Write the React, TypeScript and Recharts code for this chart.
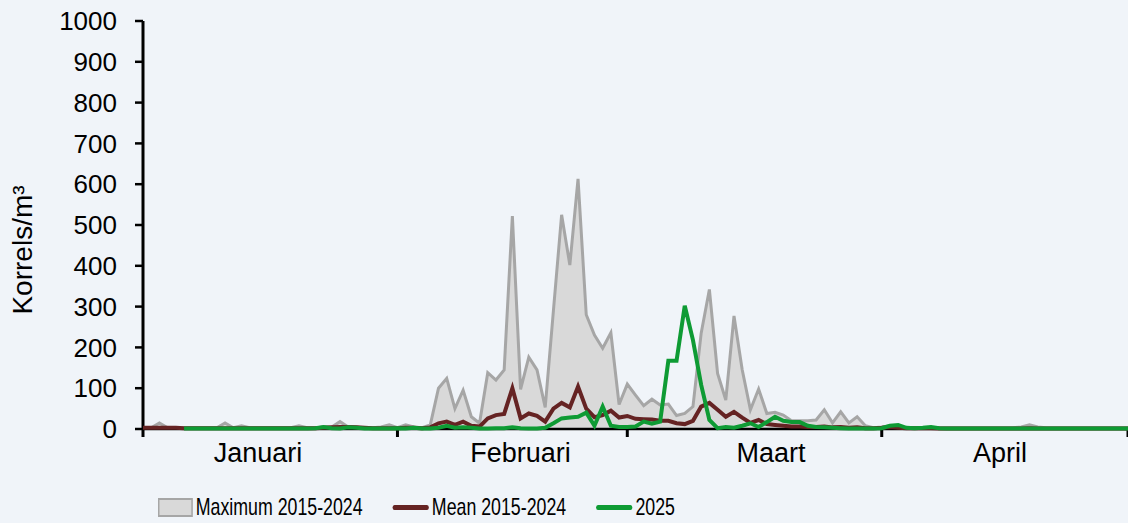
import React from "react";
import {
  ComposedChart,
  Area,
  Line,
  XAxis,
  YAxis,
  Legend,
} from "recharts";

// day index 0 = 1 januari ... 120 = 1 mei
const maxVals = [
  3, 3, 15, 3, 3, 3, 3, 3, 3, 3,
  15, 3, 8, 3, 3, 3, 3, 3, 3, 8,
  3, 3, 5, 5, 18, 5, 5, 3, 3, 5,
  10, 3, 10, 5, 3, 10, 100, 124, 50, 95,
  30, 14, 138, 120, 145, 522, 97, 176, 145, 53,
  290, 525, 402, 613, 280, 230, 198, 236, 60, 110,
  83, 57, 73, 59, 61, 33, 38, 55, 235, 342,
  136, 71, 277, 145, 47, 98, 38, 41, 34, 20,
  20, 20, 22, 47, 15, 42, 15, 30, 8, 3,
  5, 8, 3, 3, 3, 3, 3, 3, 3, 3,
  3, 3, 3, 3, 3, 3, 3, 5, 10, 5,
  3, 3, 3, 3, 3, 3, 3, 3, 3, 3, 3,
];

const meanVals = [
  3, 3, 3, 3, 3, 2, 2, 2, 2, 2,
  2, 2, 2, 2, 2, 2, 2, 2, 2, 2,
  2, 2, 3, 4, 5, 5, 4, 3, 2, 2,
  2, 2, 3, 3, 2, 4, 14, 18, 10, 18,
  8, 6, 26, 34, 37, 100, 26, 38, 32, 18,
  50, 64, 53, 104, 50, 29, 34, 45, 28, 32,
  25, 24, 23, 20, 20, 14, 12, 20, 55, 64,
  47, 30, 42, 28, 15, 22, 12, 10, 8, 6,
  6, 5, 5, 6, 4, 5, 3, 4, 2, 2,
  3, 5, 3, 2, 2, 2, 2, 1, 1, 1,
  1, 1, 1, 1, 1, 1, 1, 1, 2, 1,
  1, 1, 1, 1, 1, 1, 1, 1, 1, 1, 1,
];

const vals2025 = [
  null, null, null, null, null, 1, 1, 1, 1, 1,
  1, 1, 1, 1, 1, 1, 1, 1, 1, 1,
  1, 2, 5, 2, 1, 4, 3, 1, 1, 1,
  1, 2, 1, 3, 1, 1, 3, 8, 3, 4,
  3, 1, 1, 2, 2, 4, 2, 1, 1, 3,
  14, 26, 28, 30, 40, 8, 55, 8, 5, 5,
  6, 18, 13, 18, 167, 167, 302, 218, 108, 22,
  2, 5, 3, 8, 14, 5, 17, 30, 20, 17,
  17, 8, 5, 4, 3, 2, 1, 1, 1, 1,
  2, 8, 10, 3, 2, 3, 5, 2, 1, 1,
  1, 1, 1, 1, 1, 1, 1, 1, 1, 1,
  1, 1, 1, 1, 1, 1, 1, 1, 1, 1, 1,
];

const monthStarts = [0, 31, 59, 90, 120];
const monthLabels = ["Januari", "Februari", "Maart", "April"];
const labelPos = [14, 46, 76.5, 104.4];
const yTicks = [0, 100, 200, 300, 400, 500, 600, 700, 800, 900, 1000];

const data = maxVals.map((m, i) => ({
  day: i,
  max: m,
  mean: meanVals[i],
  y2025: vals2025[i],
}));

const BG = "#f0f4f9";
const AXIS_FONT = "'Liberation Sans', Arial, sans-serif";
const SQUEEZE = 0.74; // legend font is a narrow face in the original

function LegendBox() {
  const gap = 30 / SQUEEZE;
  const item = { display: "flex", alignItems: "center", marginRight: gap };
  const text = { fontSize: 24, color: "#000", marginLeft: 3 / SQUEEZE, whiteSpace: "nowrap" as const };
  return (
    <div style={{ paddingLeft: 158, paddingTop: 18 }}>
      <div
        style={{
          display: "flex",
          alignItems: "center",
          fontFamily: AXIS_FONT,
          transform: `scaleX(${SQUEEZE})`,
          transformOrigin: "0 50%",
          width: 1300,
        }}
      >
        <div style={item}>
          <div style={{ width: 43, height: 15, background: "#d9d9d9", border: "2px solid #a6a6a6" }} />
          <span style={text}>Maximum 2015-2024</span>
        </div>
        <div style={item}>
          <div style={{ width: 49, height: 5, borderRadius: 3, background: "#652323" }} />
          <span style={text}>Mean 2015-2024</span>
        </div>
        <div style={item}>
          <div style={{ width: 49, height: 5, borderRadius: 3, background: "#0e9b34" }} />
          <span style={text}>2025</span>
        </div>
      </div>
    </div>
  );
}

function YLabel(props: any) {
  const { viewBox } = props;
  const cx = viewBox.x + 22;
  const cy = viewBox.y + viewBox.height / 2 + 25;
  return (
    <text
      x={cx}
      y={cy}
      transform={`rotate(-90, ${cx}, ${cy})`}
      textAnchor="middle"
      dominantBaseline="central"
      fontSize={28}
      fontFamily={AXIS_FONT}
      fill="#000"
    >
      Korrels/m³
    </text>
  );
}

const NoTick = () => <g />;

export default function App() {
  return (
    <div style={{ position: "absolute", left: 0, top: 0, width: 1128, height: 523, background: BG }}>
      <ComposedChart
        width={1128}
        height={523}
        data={data}
        margin={{ top: 21, right: 0, bottom: 0, left: 0 }}
      >
        <XAxis
          xAxisId="a"
          dataKey="day"
          type="number"
          domain={[0, 120]}
          ticks={monthStarts}
          tick={NoTick}
          tickSize={8}
          height={8}
          interval={0}
          axisLine={{ stroke: "#000", strokeWidth: 2.5 }}
          tickLine={{ stroke: "#000", strokeWidth: 3 }}
        />
        <XAxis
          xAxisId="b"
          dataKey="day"
          type="number"
          domain={[0, 120]}
          ticks={labelPos}
          tickFormatter={(v: number) => monthLabels[labelPos.indexOf(v)] ?? ""}
          axisLine={false}
          tickLine={false}
          tickSize={6}
          tickMargin={0}
          height={38}
          interval={0}
          tick={{ fill: "#000", fontSize: 27, fontFamily: AXIS_FONT }}
        />
        <YAxis
          domain={[0, 1000]}
          ticks={yTicks}
          width={143}
          tickSize={8}
          tickMargin={18}
          interval={0}
          axisLine={{ stroke: "#000", strokeWidth: 3 }}
          tickLine={{ stroke: "#000", strokeWidth: 2.5 }}
          tick={{ fill: "#000", fontSize: 26, fontFamily: AXIS_FONT }}
          label={<YLabel />}
        />
        <Legend verticalAlign="bottom" height={48} content={() => <LegendBox />} />
        <Area
          xAxisId="a"
          type="linear"
          dataKey="max"
          stroke="#a6a6a6"
          strokeWidth={3}
          fill="#d9d9d9"
          fillOpacity={1}
          isAnimationActive={false}
          dot={false}
          activeDot={false}
        />
        <Line
          xAxisId="a"
          type="linear"
          dataKey="mean"
          stroke="#652323"
          strokeWidth={4}
          dot={false}
          activeDot={false}
          isAnimationActive={false}
          {...({ zIndex: 550 } as any)}
        />
        <Line
          xAxisId="a"
          type="linear"
          dataKey="y2025"
          stroke="#0e9b34"
          strokeWidth={4}
          dot={false}
          activeDot={false}
          isAnimationActive={false}
          {...({ zIndex: 560 } as any)}
        />
      </ComposedChart>
    </div>
  );
}
